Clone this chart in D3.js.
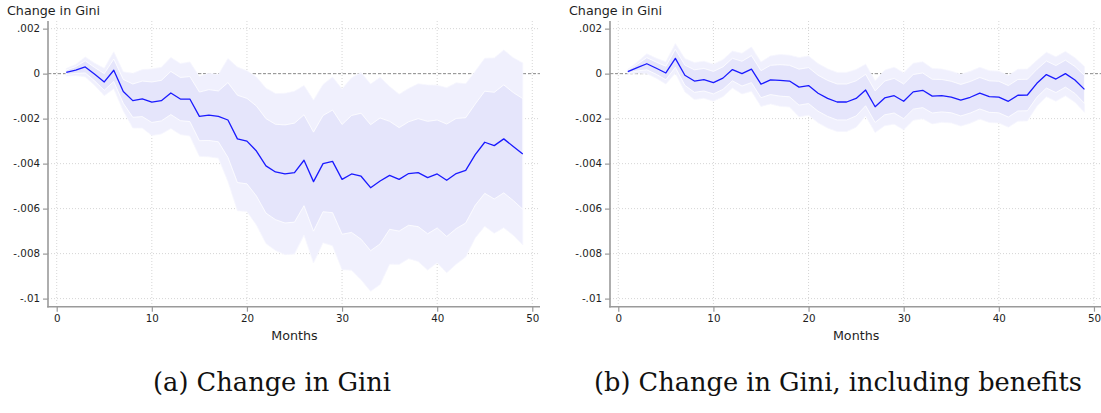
<!DOCTYPE html>
<html>
<head>
<meta charset="utf-8">
<script src="https://cdn.jsdelivr.net/npm/d3@7"></script>
<style>
  html, body { margin: 0; padding: 0; background: #fff; }
  svg { display: block; }
</style>
</head>
<body>
<div id="chart"></div>
<script>
// ========= Data ========= //
const months = [1, 2, 3, 4, 5, 6, 7, 8, 9, 10, 11, 12, 13, 14, 15, 16, 17, 18, 19, 20,
  21, 22, 23, 24, 25, 26, 27, 28, 29, 30, 31, 32, 33, 34, 35, 36, 37, 38, 39, 40,
  41, 42, 43, 44, 45, 46, 47, 48, 49];

// (a) Change in Gini: point estimate and standard error
const giniEst = [0.00006, 0.00016, 0.0003, -0.00003, -0.00037, 0.00015, -0.00079, -0.0012, -0.00112, -0.00127,
  -0.0012, -0.00086, -0.00113, -0.00113, -0.0019, -0.00184, -0.0019, -0.00206, -0.0029, -0.003,
  -0.00344, -0.0041, -0.00437, -0.00446, -0.0044, -0.00385, -0.0048, -0.004, -0.0039, -0.0047,
  -0.00446, -0.00456, -0.00507, -0.00477, -0.00452, -0.0047, -0.00444, -0.0044, -0.00462, -0.00446,
  -0.00474, -0.00444, -0.0043, -0.0036, -0.00305, -0.0032, -0.0029, -0.00324, -0.00357];
const giniSe = [0.0001, 0.00015, 0.00027, 0.0003, 0.00037, 0.0005, 0.00053, 0.00074, 0.00079, 0.0009,
  0.0009, 0.00096, 0.00096, 0.001, 0.00108, 0.00113, 0.00113, 0.00166, 0.00194, 0.0019,
  0.002, 0.0021, 0.00212, 0.00218, 0.0022, 0.00202, 0.0022, 0.00214, 0.00228, 0.00244,
  0.0026, 0.0028, 0.0028, 0.0028, 0.0024, 0.0023, 0.0023, 0.0024, 0.0025, 0.0024,
  0.0025, 0.00245, 0.00234, 0.00225, 0.00227, 0.00237, 0.0024, 0.0024, 0.00246];

// (b) Change in Gini, including benefits
const giniBenEst = [0.00009, 0.00027, 0.00044, 0.00024, 0.00003, 0.00068, -0.00007, -0.00033, -0.00027, -0.0004,
  -0.0002, 0.00018, 0, 0.0002, -0.00047, -0.00028, -0.0003, -0.00033, -0.0006, -0.00053,
  -0.00087, -0.0011, -0.00126, -0.00126, -0.0011, -0.00073, -0.00147, -0.00108, -0.00098, -0.00123,
  -0.00081, -0.00074, -0.001, -0.00098, -0.00104, -0.00118, -0.00105, -0.00087, -0.00102, -0.00104,
  -0.00123, -0.00096, -0.00095, -0.00043, -0.00004, -0.00024, 0, -0.00028, -0.0007];
const giniBenSe = [0.00006, 0.00015, 0.00027, 0.00027, 0.0003, 0.0004, 0.00045, 0.0005, 0.0005, 0.0005,
  0.0005, 0.0005, 0.00055, 0.0006, 0.0006, 0.00065, 0.0007, 0.0007, 0.0008, 0.0008,
  0.0008, 0.0008, 0.0008, 0.0008, 0.00078, 0.0007, 0.0007, 0.00075, 0.00077, 0.00077,
  0.00077, 0.00077, 0.00075, 0.00072, 0.0007, 0.0007, 0.0007, 0.0007, 0.0007, 0.0007,
  0.0007, 0.0007, 0.0007, 0.00062, 0.0006, 0.0006, 0.0006, 0.0006, 0.00062];

const xTicks = [0, 10, 20, 30, 40, 50];
const yTicks = [0.002, 0, -0.002, -0.004, -0.006, -0.008, -0.01];
const yTickLabels = ['.002', '0', '-.002', '-.004', '-.006', '-.008', '-.01'];
const yTitle = 'Change in Gini';
const xTitle = 'Months';
const captions = ['(a) Change in Gini', '(b) Change in Gini, including benefits'];

// inner band = +/- 1 se, outer band = 90% CI
const innerZ = 1;
const outerZ = 1.645;

// ========= Layout ========= //
const width = 1101;
const height = 413;

const panels = [
  { est: giniEst, se: giniSe, left: 48, right: 540, xMin: -0.915, xMax: 50.81, titleX: 7, caption: captions[0], capX: 272, capW: 238 },
  { est: giniBenEst, se: giniBenSe, left: 610, right: 1101, xMin: -0.87, xMax: 50.74, titleX: 569, caption: captions[1], capX: 838, capW: 488 }
];

const plotTop = 21;
const plotBottom = 306.7;
const yMin = -0.01036;
const yMax = 0.00234;

const colors = {
  outer: '#f0f0fd',
  inner: '#e5e5fb',
  line: '#1a1aff',
  axis: '#9a9a9a',
  grid: '#d6d6d6',
  zero: '#8c8c8c',
  text: '#1e1e1e'
};

const svg = d3.select('#chart').append('svg')
  .attr('width', width)
  .attr('height', height);

const y = d3.scaleLinear()
  .domain([yMin, yMax])
  .range([plotBottom, plotTop]);

panels.forEach((p) => {
  const x = d3.scaleLinear()
    .domain([p.xMin, p.xMax])
    .range([p.left, p.right]);

  const rows = months.map((m, i) => ({ m, est: p.est[i], se: p.se[i] }));

  const g = svg.append('g');

  // ========= Grid ========= //
  g.append('g')
    .selectAll('line')
    .data(yTicks)
    .join('line')
    .attr('x1', p.left)
    .attr('x2', p.right)
    .attr('y1', (d) => y(d))
    .attr('y2', (d) => y(d))
    .attr('stroke', colors.grid)
    .attr('stroke-width', 1)
    .attr('stroke-dasharray', '1,2');

  g.append('g')
    .selectAll('line')
    .data(xTicks)
    .join('line')
    .attr('x1', (d) => x(d))
    .attr('x2', (d) => x(d))
    .attr('y1', plotTop)
    .attr('y2', plotBottom)
    .attr('stroke', colors.grid)
    .attr('stroke-width', 1)
    .attr('stroke-dasharray', '1,2');

  // ========= Zero line ========= //
  g.append('line')
    .attr('x1', p.left)
    .attr('x2', p.right)
    .attr('y1', y(0))
    .attr('y2', y(0))
    .attr('stroke', colors.zero)
    .attr('stroke-width', 1)
    .attr('stroke-dasharray', '3,2');

  // ========= Confidence bands ========= //
  const band = (z) => d3.area()
    .x((d) => x(d.m))
    .y0((d) => y(d.est - z * d.se))
    .y1((d) => y(d.est + z * d.se));

  g.append('path')
    .datum(rows)
    .attr('fill', colors.outer)
    .attr('stroke', '#f6f6fe')
    .attr('stroke-width', 0.8)
    .attr('d', band(outerZ));

  g.append('path')
    .datum(rows)
    .attr('fill', colors.inner)
    .attr('stroke', '#ffffff')
    .attr('stroke-width', 0.8)
    .attr('d', band(innerZ));

  // ========= Estimate ========= //
  g.append('path')
    .datum(rows)
    .attr('fill', 'none')
    .attr('stroke', colors.line)
    .attr('stroke-width', 1.3)
    .attr('stroke-linejoin', 'round')
    .attr('d', d3.line().x((d) => x(d.m)).y((d) => y(d.est)));

  // ========= Axes ========= //
  const yAxis = g.append('g')
    .attr('transform', `translate(${p.left},0)`)
    .call(d3.axisLeft(y).tickValues(yTicks).tickSize(5).tickPadding(3)
      .tickFormat((d, i) => yTickLabels[i]));

  const xAxis = g.append('g')
    .attr('transform', `translate(0,${plotBottom})`)
    .call(d3.axisBottom(x).tickValues(xTicks).tickSize(5).tickPadding(3));

  [yAxis, xAxis].forEach((a) => {
    a.select('.domain').remove();
    a.selectAll('.tick line').attr('stroke', colors.axis).attr('stroke-width', 1.2);
    a.selectAll('.tick text')
      .attr('fill', colors.text)
      .attr('font-family', 'DejaVu Sans')
      .attr('font-size', 10.3);
  });

  g.append('line')
    .attr('x1', p.left).attr('x2', p.left)
    .attr('y1', plotTop).attr('y2', plotBottom + 0.8)
    .attr('stroke', colors.axis)
    .attr('stroke-width', 1.6);

  g.append('line')
    .attr('x1', p.left - 0.8).attr('x2', p.right)
    .attr('y1', plotBottom).attr('y2', plotBottom)
    .attr('stroke', colors.axis)
    .attr('stroke-width', 1.6);

  // ========= Titles ========= //
  g.append('text')
    .attr('x', p.titleX)
    .attr('y', 14.5)
    .attr('fill', colors.text)
    .attr('font-family', 'DejaVu Sans')
    .attr('font-size', 12.7)
    .text(yTitle);

  g.append('text')
    .attr('x', (x(0) + x(50)) / 2)
    .attr('y', 340)
    .attr('text-anchor', 'middle')
    .attr('fill', colors.text)
    .attr('font-family', 'DejaVu Sans')
    .attr('font-size', 12.7)
    .text(xTitle);

  // ========= Caption ========= //
  const cap = g.append('text')
    .attr('x', p.capX)
    .attr('y', 391)
    .attr('text-anchor', 'middle')
    .attr('fill', '#111')
    .attr('font-family', 'DejaVu Serif')
    .attr('font-size', 22)
    .text(p.caption);

  const w = cap.node().getComputedTextLength();
  cap.attr('font-size', 22 * p.capW / w);
});
</script>
</body>
</html>
